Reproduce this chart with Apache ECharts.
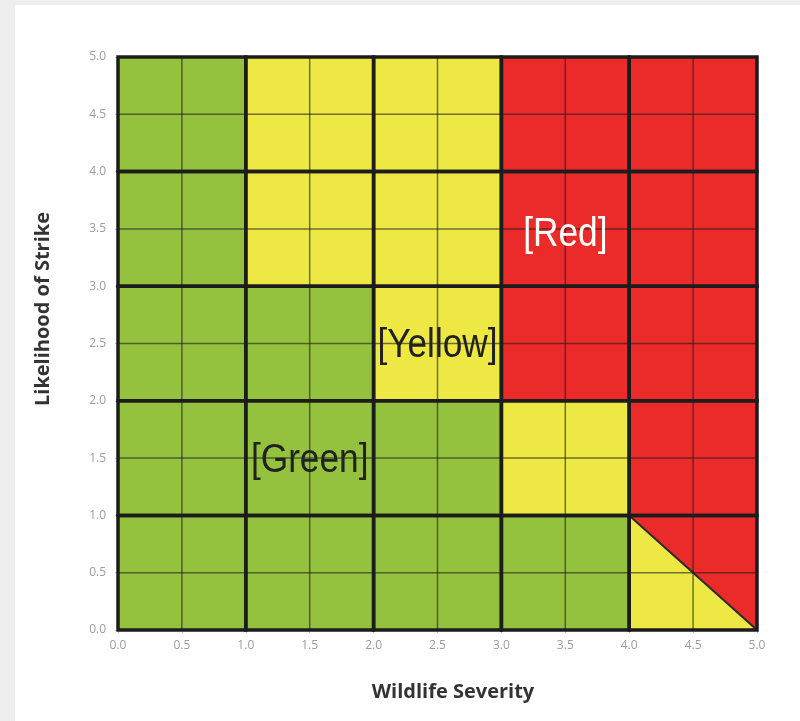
<!DOCTYPE html>
<html>
<head>
<meta charset="utf-8">
<script src="https://cdn.jsdelivr.net/npm/echarts@6/dist/echarts.min.js"></script>
<style>
  html, body { margin: 0; padding: 0; background: #eeeeee; }
  #main { position: absolute; left: 15px; top: 5px; width: 785px; height: 716px; background: #fff; }
</style>
</head>
<body>
<div id="main"></div>
<script>
// zone of each 1x1 cell, rows from top (y 4-5) to bottom (y 0-1)
// 0 = green, 1 = yellow, 2 = red, 3 = split (yellow lower-left / red upper-right)
const zoneRows = [
  [0, 1, 1, 2, 2],
  [0, 1, 1, 2, 2],
  [0, 0, 1, 2, 2],
  [0, 0, 0, 1, 2],
  [0, 0, 0, 0, 3]
];
const zoneColors = ["#94c23e", "#eee844", "#eb2a2a"];
const tickLabels = ["0.0", "0.5", "1.0", "1.5", "2.0", "2.5", "3.0", "3.5", "4.0", "4.5", "5.0"];
const labelPoints = [[1.5, 1.48], [2.5, 2.48], [3.5, 3.45]];
const labelTexts = ["[Green]", "[Yellow]", "[Red]"];
const labelColors = ["#222222", "#222222", "#ffffff"];

const cells = [];
zoneRows.forEach(function (row, r) {
  row.forEach(function (z, c) {
    cells.push([c, 4 - r, z]);
  });
});

function fillItem(params, api) {
  const x = api.value(0), y = api.value(1), z = api.value(2);
  const pt = function (a, b) { return api.coord([a, b]); };
  if (z === 3) {
    return {
      type: "group",
      children: [
        { type: "polygon", shape: { points: [pt(x, y), pt(x, y + 1), pt(x + 1, y)] }, style: { fill: zoneColors[1] } },
        { type: "polygon", shape: { points: [pt(x, y + 1), pt(x + 1, y + 1), pt(x + 1, y)] }, style: { fill: zoneColors[2] } },
        { type: "line", shape: { x1: pt(x, y + 1)[0], y1: pt(x, y + 1)[1], x2: pt(x + 1, y)[0], y2: pt(x + 1, y)[1] },
          style: { stroke: "#2a2a2a", lineWidth: 2 } }
      ]
    };
  }
  const tl = pt(x, y + 1), br = pt(x + 1, y);
  return {
    type: "rect",
    shape: { x: tl[0], y: tl[1], width: br[0] - tl[0], height: br[1] - tl[1] },
    style: { fill: zoneColors[z] }
  };
}

function lineItem(params, api) {
  const x = api.value(0), y = api.value(1);
  const tl = api.coord([x, y + 1]), br = api.coord([x + 1, y]);
  const mid = api.coord([x + 0.5, y + 0.5]);
  const thin = { stroke: "rgba(30,30,30,0.6)", lineWidth: 1.5 };
  return {
    type: "group",
    children: [
      { type: "line", shape: { x1: mid[0], y1: tl[1], x2: mid[0], y2: br[1] }, style: thin },
      { type: "line", shape: { x1: tl[0], y1: mid[1], x2: br[0], y2: mid[1] }, style: thin },
      { type: "rect", shape: { x: tl[0], y: tl[1], width: br[0] - tl[0], height: br[1] - tl[1] },
        style: { fill: null, stroke: "#1c1c1c", lineWidth: 3.5 } }
    ]
  };
}

// zone names, drawn a bit condensed like the original
function textItem(params, api) {
  const p = api.coord([api.value(0), api.value(1)]);
  const i = params.dataIndex;
  return {
    type: "text",
    x: p[0],
    y: p[1],
    scaleX: 0.86,
    style: {
      text: labelTexts[i],
      fill: labelColors[i],
      font: "41px 'Liberation Sans', sans-serif",
      align: "center",
      verticalAlign: "middle"
    }
  };
}

const axisCommon = {
  type: "value",
  min: 0,
  max: 5,
  interval: 0.5,
  axisLine: { show: false },
  axisTick: { show: true, length: 3, lineStyle: { color: "#c8c8c8" } },
  splitLine: { show: false },
  axisLabel: {
    color: "#9c9c9c",
    fontSize: 12,
    fontFamily: "Open Sans",
    formatter: function (v) { return tickLabels[Math.round(v * 2)]; }
  }
};

const chart = echarts.init(document.getElementById("main"));
chart.setOption({
  animation: false,
  grid: { left: 103, right: 43, top: 52, bottom: 91 },
  xAxis: Object.assign({}, axisCommon, { axisLabel: Object.assign({}, axisCommon.axisLabel, { margin: 10 }) }),
  yAxis: Object.assign({}, axisCommon, { axisLabel: Object.assign({}, axisCommon.axisLabel, { margin: 12 }) }),
  graphic: [
    {
      type: "text", x: 28, y: 304, rotation: Math.PI / 2,
      style: { text: "Likelihood of Strike", font: "bold 20px 'Open Sans'", fill: "#333", align: "center", verticalAlign: "middle" }
    },
    {
      type: "text", x: 438, y: 687,
      style: { text: "Wildlife Severity", font: "bold 20px 'Open Sans'", fill: "#333", align: "center", verticalAlign: "middle" }
    }
  ],
  series: [
    { type: "custom", renderItem: fillItem, data: cells, z: 2, silent: true },
    { type: "custom", renderItem: lineItem, data: cells, z: 4, silent: true },
    { type: "custom", renderItem: textItem, data: labelPoints, z: 6, silent: true }
  ]
});
</script>
</body>
</html>
